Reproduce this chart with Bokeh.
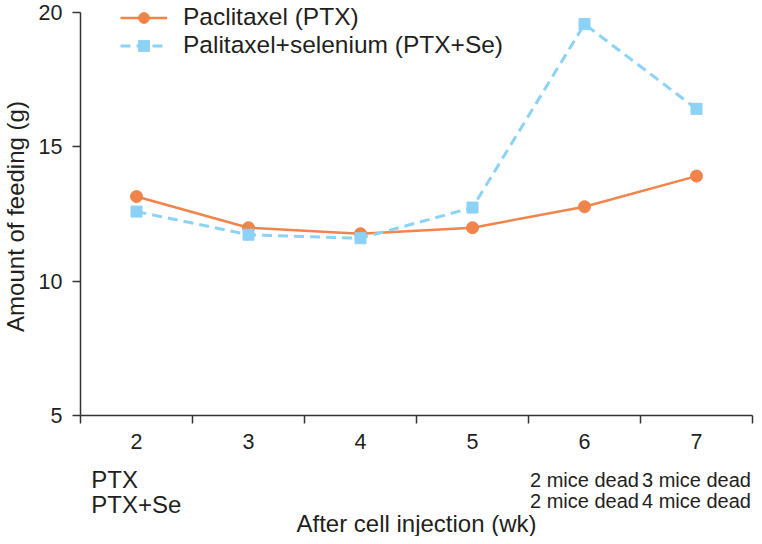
import math
from bokeh.plotting import figure
from bokeh.models import Range1d, FixedTicker, Legend, LegendItem, Label
from bokeh.embed import file_html
from bokeh.resources import INLINE

# ---- data ----
weeks = [2, 3, 4, 5, 6, 7]
ptx = [13.14, 11.98, 11.76, 11.98, 12.76, 13.90]
ptx_se = [12.58, 11.72, 11.59, 12.73, 19.55, 16.40]
y_ticks = [5, 10, 15, 20]
series_names = ["Paclitaxel (PTX)", "Palitaxel+selenium (PTX+Se)"]
row_labels = ["PTX", "PTX+Se"]
ptx_deaths = ["", "", "", "", "2 mice dead", "3 mice dead"]
se_deaths = ["", "", "", "", "2 mice dead", "4 mice dead"]
x_title = "After cell injection (wk)"
y_title = "Amount of feeding (g)"

# ---- style / layout ----
ORANGE = "#F0844A"
BLUE = "#8CD2F5"
INK = "#231F20"
AXIS = "#333333"
FONT = "Liberation Sans"

W, H = 754, 536
AX_LEFT, AX_RIGHT = 80.0, 752.0      # canvas px of the x-axis ends
AX_TOP, AX_BOTTOM = 11.5, 415.0      # canvas px of y = 20 and y = 5
X0, X1 = weeks[0] - 0.5, weeks[-1] + 0.5
Y0, Y1 = y_ticks[0], y_ticks[-1]
ppx = (AX_RIGHT - AX_LEFT) / (X1 - X0)
ppu = (AX_BOTTOM - AX_TOP) / (Y1 - Y0)
XL = X0 - AX_LEFT / ppx
XR = X1 + (W - AX_RIGHT) / ppx
YT = Y1 + AX_TOP / ppu
YB = Y0 - (H - AX_BOTTOM) / ppu
BASE_FIX = 0.31  # measured offset of the rendered baseline, in em


def cx(px):
    return XL + px / ppx


def cy(px):
    return YT - px / ppu


def baseline_y(px, size):
    return cy(px - BASE_FIX * size)


def baseline_x(px, size):
    return cx(px - BASE_FIX * size)


p = figure(width=W, height=H, output_backend="svg", toolbar_location=None,
           x_range=Range1d(XL, XR), y_range=Range1d(YB, YT), min_border=0)
p.grid.visible = False
p.outline_line_color = None
p.background_fill_color = "white"
p.border_fill_color = "white"

# series
l1 = p.line(weeks, ptx, line_color=ORANGE, line_width=2.5)
s1 = p.scatter(weeks, ptx, marker="circle", size=12, fill_color=ORANGE, line_color=ORANGE)
l2 = p.line(weeks, ptx_se, line_color=BLUE, line_width=3, line_dash="10 6")
s2 = p.scatter(weeks, ptx_se, marker="square", size=11, fill_color=BLUE, line_color=BLUE)

# axes
p.xaxis.fixed_location = Y0
p.xaxis.bounds = (X0, X1)
p.xaxis.ticker = FixedTicker(ticks=weeks, minor_ticks=[w - 0.5 for w in weeks] + [weeks[-1] + 0.5])
p.xaxis.major_tick_line_color = None
p.xaxis.major_tick_out = 8
p.xaxis.major_tick_in = 0
p.xaxis.minor_tick_line_color = AXIS
p.xaxis.minor_tick_line_width = 1.5
p.xaxis.minor_tick_out = 8
p.xaxis.minor_tick_in = 0
p.xaxis.major_label_standoff = 10

p.yaxis.fixed_location = X0
p.yaxis.bounds = (Y0, Y1)
p.yaxis.ticker = FixedTicker(ticks=y_ticks, minor_ticks=[])
p.yaxis.major_tick_out = 8
p.yaxis.major_tick_in = 0
p.yaxis.major_tick_line_color = AXIS
p.yaxis.major_tick_line_width = 1.5
p.yaxis.minor_tick_line_color = None
p.yaxis.major_label_standoff = 10

for ax in (p.xaxis, p.yaxis):
    ax.axis_line_color = AXIS
    ax.axis_line_width = 1.5
    ax.major_label_text_font = FONT
    ax.major_label_text_font_size = "21.5px"
    ax.major_label_text_color = INK

# legend (location measured from frame bottom-left)
legend = Legend(
    items=[LegendItem(label=series_names[0], renderers=[l1, s1]),
           LegendItem(label=series_names[1], renderers=[l2, s2])],
    location=(120, H - 5 - 54),
    padding=0, margin=0, spacing=0,
    glyph_width=47, glyph_height=27, label_height=27, label_standoff=16,
    label_text_font=FONT, label_text_font_size="24.5px", label_text_color=INK,
    border_line_color=None, background_fill_alpha=0,
)
p.add_layout(legend)

# titles
p.add_layout(Label(x=(X0 + X1) / 2, y=baseline_y(530, 24), text=x_title,
                   text_align="center", text_baseline="alphabetic",
                   text_font=FONT, text_font_size="24px", text_color=INK))
p.add_layout(Label(x=baseline_x(22.5, 24), y=cy(216), text=y_title, angle=math.pi / 2,
                   text_align="center", text_baseline="alphabetic",
                   text_font=FONT, text_font_size="24px", text_color=INK))

# rows under the axis
for lab, py in zip(row_labels, [486, 511]):
    p.add_layout(Label(x=cx(AX_LEFT + 10.8), y=baseline_y(py, 24), text=lab,
                       text_align="left", text_baseline="alphabetic",
                       text_font=FONT, text_font_size="24px", text_color=INK))

for deaths, py in zip([ptx_deaths, se_deaths], [486, 507]):
    for w, t in zip(weeks, deaths):
        if t:
            p.add_layout(Label(x=w, y=baseline_y(py, 20), text=t,
                               text_align="center", text_baseline="alphabetic",
                               text_font=FONT, text_font_size="20px", text_color=INK))

open("out.html", "w").write(file_html(p, INLINE))
